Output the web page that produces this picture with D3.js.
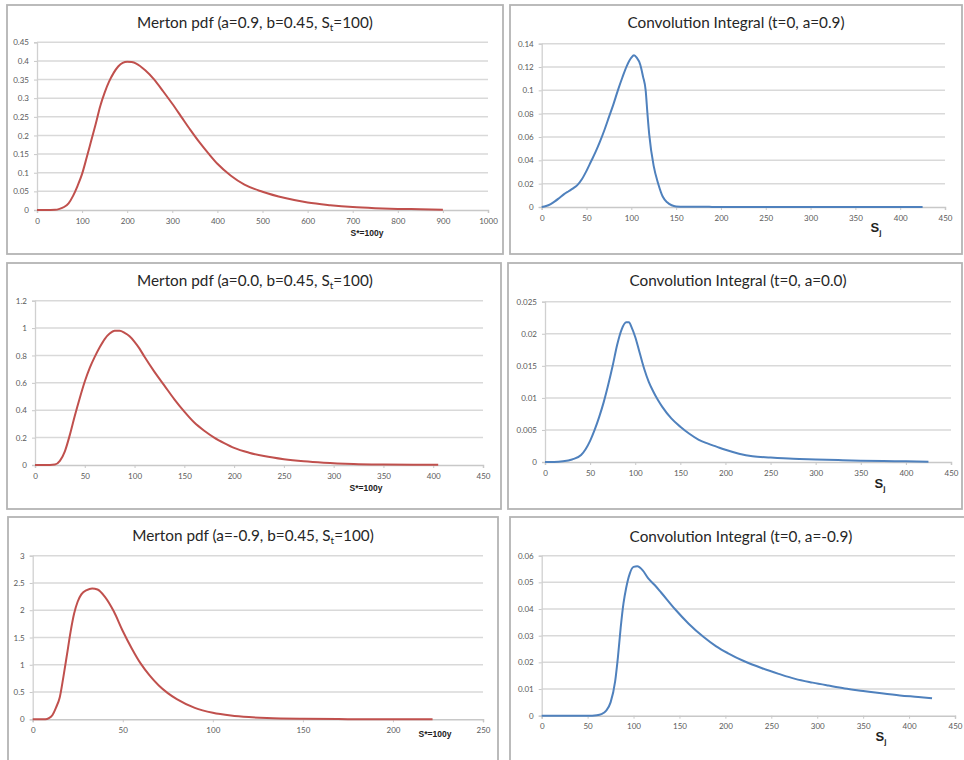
<!DOCTYPE html>
<html>
<head>
<meta charset="utf-8">
<script src="https://cdn.jsdelivr.net/npm/d3@7"></script>
<style>
  html, body { margin: 0; padding: 0; background: #ffffff; }
  svg { display: block; }
  .tick-label { font-family: Lato, "Open Sans", sans-serif; font-size: 8px; }
  .title { font-family: Lato, "Open Sans", sans-serif; font-size: 15.3px; fill: #262626; }
  .xlab { font-family: "Liberation Sans", Arial, sans-serif; font-weight: bold; fill: #222; }
</style>
</head>
<body>
<svg id="chart" width="964" height="760"></svg>
<script>
// ---- Merton densities, S* = 100y (value pairs: [S*, pdf]) ----
const mertonPos = [[0,0],[20,0],[40,0.0005],[50,0.003],[60,0.008],[70,0.018],[80,0.038],[90,0.065],[100,0.097],[110,0.14],[120,0.185],[130,0.23],[140,0.278],[150,0.315],[160,0.345],[170,0.368],[180,0.385],[190,0.395],[200,0.398],[210,0.397],[220,0.393],[240,0.375],[260,0.35],[280,0.318],[300,0.285],[320,0.25],[340,0.215],[360,0.182],[380,0.152],[400,0.124],[430,0.092],[460,0.068],[500,0.049],[550,0.032],[600,0.02],[650,0.013],[700,0.008],[750,0.005],[800,0.003],[850,0.002],[900,0.001]];
const mertonZero = [[0,0],[15,0],[20,0.003],[25,0.03],[30,0.1],[35,0.22],[40,0.36],[45,0.49],[50,0.61],[55,0.71],[60,0.79],[65,0.86],[70,0.92],[75,0.96],[80,0.98],[85,0.98],[90,0.965],[95,0.94],[100,0.9],[105,0.85],[110,0.79],[120,0.68],[130,0.58],[140,0.48],[150,0.39],[160,0.31],[170,0.25],[180,0.2],[190,0.16],[200,0.125],[215,0.09],[230,0.065],[250,0.042],[270,0.027],[290,0.017],[320,0.008],[350,0.004],[380,0.002],[405,0.001]];
const mertonNeg = [[0,0],[7,0],[9,0.02],[11,0.08],[13,0.22],[15,0.4],[17,0.77],[19,1.18],[21,1.6],[23,1.94],[25,2.16],[27,2.29],[30,2.37],[33,2.4],[36,2.38],[40,2.25],[45,1.98],[50,1.62],[55,1.3],[60,1.02],[65,0.8],[70,0.62],[75,0.48],[80,0.37],[90,0.21],[100,0.12],[110,0.07],[120,0.04],[130,0.022],[150,0.008],[175,0.003],[200,0.001],[222,0.0005]];

// ---- Convolution integrals over S_j ----
const convPos = [[0,0],[5,0.0008],[10,0.0025],[15,0.005],[20,0.008],[25,0.011],[30,0.0135],[35,0.016],[40,0.019],[45,0.024],[50,0.031],[55,0.039],[60,0.047],[65,0.056],[70,0.066],[75,0.077],[80,0.088],[85,0.1],[90,0.111],[95,0.121],[100,0.128],[103,0.13],[106,0.128],[110,0.122],[113,0.112],[116,0.1],[118,0.08],[120,0.062],[125,0.035],[130,0.02],[135,0.009],[140,0.004],[145,0.0015],[150,0.0005],[160,0.0002],[190,0.0001],[250,0],[350,0],[425,0]];
const convZero = [[0,0],[10,0],[20,0.0001],[30,0.0004],[40,0.0011],[45,0.002],[50,0.0033],[55,0.005],[60,0.007],[65,0.0093],[70,0.012],[75,0.015],[80,0.0183],[85,0.0207],[90,0.0218],[93,0.0218],[96,0.021],[100,0.0195],[105,0.017],[110,0.0145],[115,0.0125],[120,0.011],[125,0.0097],[130,0.0086],[140,0.0068],[150,0.0055],[160,0.0044],[170,0.0035],[180,0.0029],[190,0.0024],[200,0.0019],[215,0.0013],[230,0.0009],[250,0.0007],[275,0.0005],[300,0.0004],[325,0.0003],[350,0.0002],[375,0.00015],[400,0.0001],[425,0.00005]];
const convNeg = [[0,0],[50,0],[60,0.0002],[65,0.0006],[70,0.0018],[75,0.005],[80,0.013],[83,0.022],[86,0.033],[89,0.042],[92,0.048],[96,0.0534],[100,0.0558],[104,0.056],[110,0.0545],[116,0.0515],[123,0.049],[130,0.0462],[145,0.04],[160,0.0345],[176,0.0296],[190,0.026],[203,0.0234],[220,0.0205],[240,0.0178],[258,0.0157],[276,0.0138],[295,0.0124],[312,0.0113],[330,0.0102],[350,0.0093],[370,0.0084],[390,0.0076],[410,0.007],[425,0.0065]];

// ---- axis ticks ----
const yTicksMertonPos = [0,0.05,0.1,0.15,0.2,0.25,0.3,0.35,0.4,0.45];
const xTicksMertonPos = [0,100,200,300,400,500,600,700,800,900,1000];
const yTicksMertonZero = [0,0.2,0.4,0.6,0.8,1,1.2];
const yTicksMertonNeg = [0,0.5,1,1.5,2,2.5,3];
const xTicksMertonNeg = [0,50,100,150,200,250];
const xTicks450 = [0,50,100,150,200,250,300,350,400,450];
const yTicksConvPos = [0,0.02,0.04,0.06,0.08,0.1,0.12,0.14];
const yTicksConvZero = [0,0.005,0.01,0.015,0.02,0.025];
const yTicksConvNeg = [0,0.01,0.02,0.03,0.04,0.05,0.06];

// ---- titles ----
const titles = [
  ["Merton pdf (a=0.9, b=0.45, S", "t", "=100)"],
  ["Convolution Integral (t=0, a=0.9)"],
  ["Merton pdf (a=0.0, b=0.45, S", "t", "=100)"],
  ["Convolution Integral (t=0, a=0.0)"],
  ["Merton pdf (a=-0.9, b=0.45, S", "t", "=100)"],
  ["Convolution Integral (t=0, a=-0.9)"]
];

const RED = "#c0504d", BLUE = "#4f81bd";

// panel frames and plot areas
const panels = [
  { frame:[7,5,496,249],   plot:[37,488,42.3,210],   title:[255,28],  data:mertonPos,  xt:xTicksMertonPos, yt:yTicksMertonPos, color:RED,  xlab:"merton", xlabPos:[367,236] },
  { frame:[510,5,452,249], plot:[541.7,945,43.7,207], title:[736,28],  data:convPos,    xt:xTicks450,       yt:yTicksConvPos,   color:BLUE, xlab:"conv",   xlabPos:[876,232] },
  { frame:[7,263,494,246], plot:[35,483,300.7,465],  title:[255,286], data:mertonZero, xt:xTicks450,       yt:yTicksMertonZero, color:RED, xlab:"merton", xlabPos:[366,491] },
  { frame:[508,263,454,246], plot:[545,951,301.7,462], title:[738,286], data:convZero, xt:xTicks450,       yt:yTicksConvZero,  color:BLUE, xlab:"conv",   xlabPos:[880,488] },
  { frame:[8,517,490,260], plot:[32.7,483,555.7,719.3], title:[253,541], data:mertonNeg, xt:xTicksMertonNeg, yt:yTicksMertonNeg, color:RED, xlab:"merton", xlabPos:[435,737] },
  { frame:[510,517,470,260], plot:[541.7,955,555.7,715.7], title:[741,542], data:convNeg, xt:xTicks450,       yt:yTicksConvNeg,   color:BLUE, xlab:"conv",   xlabPos:[881,741] }
];

const svg = d3.select("#chart");

panels.forEach((p, i) => {
  const g = svg.append("g");
  const [fx, fy, fw, fh] = p.frame;
  g.append("rect").attr("x", fx).attr("y", fy).attr("width", fw).attr("height", fh)
    .attr("fill", "#fff").attr("stroke", "#b4b4b4").attr("stroke-width", 1.8);

  const [l, r, t, b] = p.plot;
  const x = d3.scaleLinear().domain([p.xt[0], p.xt[p.xt.length - 1]]).range([l, r]);
  const y = d3.scaleLinear().domain([p.yt[0], p.yt[p.yt.length - 1]]).range([b, t]);

  // horizontal gridlines
  g.append("g").selectAll("line").data(p.yt.slice(1)).join("line")
    .attr("x1", l).attr("x2", r).attr("y1", d => y(d)).attr("y2", d => y(d))
    .attr("stroke", "#d9d9d9").attr("stroke-width", 1.5);

  // y axis
  const ya = g.append("g").attr("transform", `translate(${l},0)`)
    .call(d3.axisLeft(y).tickValues(p.yt).tickSize(3).tickPadding(5).tickFormat(d3.format("~g")));
  ya.select(".domain").attr("stroke", "#d0d0d0").attr("stroke-width", 1.3);
  ya.selectAll(".tick line").attr("stroke", "#c8c8c8");
  ya.selectAll(".tick text").attr("class", "tick-label").attr("fill", "#5a5a5a");

  // x axis
  const xa = g.append("g").attr("transform", `translate(0,${b})`)
    .call(d3.axisBottom(x).tickValues(p.xt).tickSize(3).tickPadding(5).tickFormat(d3.format("~g")));
  xa.select(".domain").attr("stroke", "#c8c8c8").attr("stroke-width", 1.5);
  xa.selectAll(".tick line").attr("stroke", "#c8c8c8");
  xa.selectAll(".tick text").attr("class", "tick-label").attr("fill", "#5a5a5a");

  // series line
  const line = d3.line().x(d => x(d[0])).y(d => y(d[1])).curve(d3.curveMonotoneX);
  g.append("path").datum(p.data).attr("d", line)
    .attr("fill", "none").attr("stroke", p.color).attr("stroke-width", 2).attr("stroke-linejoin", "round");

  // title
  const tt = g.append("text").attr("class", "title").attr("x", p.title[0]).attr("y", p.title[1]).attr("text-anchor", "middle");
  const parts = titles[i];
  tt.append("tspan").text(parts[0]);
  if (parts.length > 1) {
    tt.append("tspan").attr("font-size", "10px").attr("dy", 3).text(parts[1]);
    tt.append("tspan").attr("dy", -3).text(parts[2]);
  }

  // x-axis label
  const xl = g.append("text").attr("class", "xlab").attr("x", p.xlabPos[0]).attr("y", p.xlabPos[1]).attr("text-anchor", "middle");
  if (p.xlab === "merton") {
    xl.attr("font-size", "8.5px").text("S*=100y");
  } else {
    xl.attr("font-size", "13px");
    xl.append("tspan").text("S");
    xl.append("tspan").attr("font-size", "8px").attr("dy", 3).text("j");
  }
});
</script>
</body>
</html>
